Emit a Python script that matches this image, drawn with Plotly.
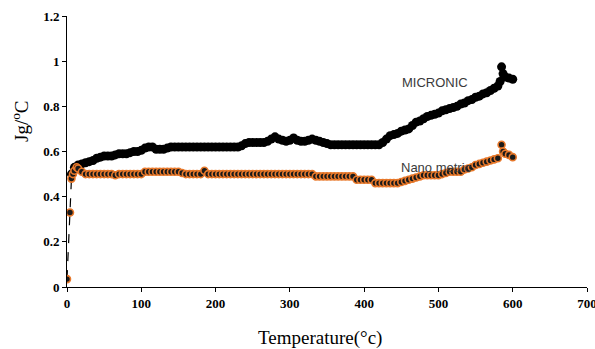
import plotly.graph_objects as go

# Micronic series
micro_t = [6, 10, 15, 20, 25, 30, 35, 40, 45, 50, 55, 60, 65, 70, 75, 80, 85, 90, 95, 100,
           105, 110, 115, 120, 125, 130, 135, 140, 145, 150, 155, 160, 165, 170, 175, 180,
           185, 190, 195, 200, 205, 210, 215, 220, 225, 230, 235, 240, 245, 250, 255, 260,
           265, 270, 275, 280, 285, 290, 295, 300, 305, 310, 315, 320, 325, 330, 335, 340,
           345, 350, 355, 360, 365, 370, 375, 380, 385, 390, 395, 400, 405, 410, 415, 420,
           425, 430, 435, 440, 445, 450, 455, 460, 465, 470, 475, 480, 485, 490, 495, 500,
           505, 510, 515, 520, 525, 530, 535, 540, 545, 550, 555, 560, 565, 570, 575, 580,
           583, 585, 587, 590, 595, 600]
micro_v = [0.50, 0.53, 0.54, 0.545, 0.55, 0.555, 0.56, 0.57, 0.575, 0.58, 0.58, 0.58, 0.585,
           0.59, 0.59, 0.59, 0.595, 0.60, 0.60, 0.605, 0.615, 0.62, 0.62, 0.61, 0.61, 0.61,
           0.615, 0.62, 0.62, 0.62, 0.62, 0.62, 0.62, 0.62, 0.62, 0.62, 0.62, 0.62, 0.62,
           0.62, 0.62, 0.62, 0.62, 0.62, 0.62, 0.62, 0.625, 0.635, 0.64, 0.64, 0.64, 0.64,
           0.64, 0.645, 0.655, 0.665, 0.655, 0.65, 0.645, 0.65, 0.66, 0.65, 0.645, 0.645,
           0.65, 0.655, 0.65, 0.645, 0.64, 0.635, 0.63, 0.63, 0.63, 0.63, 0.63, 0.63, 0.63,
           0.63, 0.63, 0.63, 0.63, 0.63, 0.63, 0.63, 0.64, 0.655, 0.67, 0.675, 0.68, 0.69,
           0.695, 0.70, 0.715, 0.73, 0.735, 0.745, 0.755, 0.76, 0.765, 0.77, 0.78, 0.785,
           0.79, 0.795, 0.80, 0.81, 0.815, 0.825, 0.83, 0.84, 0.845, 0.855, 0.86, 0.87,
           0.88, 0.89, 0.91, 0.975, 0.945, 0.93, 0.925, 0.92]

# Nano metric series
nano_t = [0, 4, 6, 8, 10, 13, 15, 20, 25, 30, 35, 40, 45, 50, 55, 60, 65, 70, 75, 80, 85,
          90, 95, 100, 105, 110, 115, 120, 125, 130, 135, 140, 145, 150, 155, 160, 165, 170,
          175, 180, 185, 190, 195, 200, 205, 210, 215, 220, 225, 230, 235, 240, 245, 250,
          255, 260, 265, 270, 275, 280, 285, 290, 295, 300, 305, 310, 315, 320, 325, 330,
          335, 340, 345, 350, 355, 360, 365, 370, 375, 380, 385, 390, 395, 400, 405, 410,
          415, 420, 425, 430, 435, 440, 445, 450, 455, 460, 465, 470, 475, 480, 485, 490,
          495, 500, 505, 510, 515, 520, 525, 530, 535, 540, 545, 550, 555, 560, 565, 570,
          575, 580, 585, 587, 590, 595, 600]
nano_v = [0.035, 0.33, 0.48, 0.50, 0.515, 0.53, 0.525, 0.51, 0.50, 0.50, 0.50, 0.50, 0.50,
          0.50, 0.50, 0.50, 0.495, 0.50, 0.50, 0.50, 0.50, 0.50, 0.50, 0.50, 0.51, 0.51,
          0.51, 0.51, 0.51, 0.51, 0.51, 0.51, 0.51, 0.51, 0.505, 0.50, 0.50, 0.50, 0.50,
          0.50, 0.515, 0.50, 0.50, 0.50, 0.50, 0.50, 0.50, 0.50, 0.50, 0.50, 0.50, 0.50,
          0.50, 0.50, 0.50, 0.50, 0.50, 0.50, 0.50, 0.50, 0.50, 0.50, 0.50, 0.50, 0.50,
          0.50, 0.50, 0.50, 0.50, 0.50, 0.49, 0.49, 0.49, 0.49, 0.49, 0.49, 0.49, 0.49,
          0.49, 0.49, 0.49, 0.475, 0.475, 0.475, 0.475, 0.475, 0.46, 0.46, 0.46, 0.46,
          0.46, 0.46, 0.46, 0.465, 0.47, 0.475, 0.48, 0.485, 0.49, 0.495, 0.495, 0.495,
          0.495, 0.495, 0.50, 0.505, 0.51, 0.51, 0.51, 0.51, 0.52, 0.525, 0.53, 0.54,
          0.545, 0.55, 0.555, 0.56, 0.565, 0.57, 0.63, 0.60, 0.59, 0.585, 0.575]

x_ticks = [0, 100, 200, 300, 400, 500, 600, 700]
y_ticks = [0, 0.2, 0.4, 0.6, 0.8, 1, 1.2]
y_tick_text = ["0", "0.2", "0.4", "0.6", "0.8", "1", "1.2"]

ORANGE = "#E8782A"
# The page body margin is removed by post_script, so figure coords == screen coords.
# Figure is a little wider than the window so the "700" label is not dropped;
# overflow is hidden so no scrollbars appear.
W, H = 603, 349
# desired plot area on screen: x 67..587, y 16..287
ML = 67
MT = 16
MR = W - 587
MB = H - 287
PW, PH = W - ML - MR, H - MT - MB


def px_to_paper(px, py):
    return (px - ML) / PW, (H - MB - py) / PH


fig = go.Figure()
fig.add_trace(go.Scatter(
    x=micro_t, y=micro_v, mode="lines+markers", name="MICRONIC",
    line=dict(color="black", width=2),
    marker=dict(color="black", size=9, symbol="circle"),
))
fig.add_trace(go.Scatter(
    x=nano_t, y=nano_v, mode="lines+markers", name="Nano metric",
    line=dict(color="black", width=1.2, dash="dash"),
    marker=dict(color="#1a1a1a", size=7, line=dict(color=ORANGE, width=1.6)),
))

xt_x, xt_y = px_to_paper(320, 338)
yt_x, yt_y = px_to_paper(20, 121)

axis_common = dict(ticks="outside", ticklen=4, tickwidth=1, tickcolor="black",
                   showline=True, linecolor="black", linewidth=1, showgrid=False,
                   zeroline=False, automargin=False,
                   tickfont=dict(family="Liberation Serif", size=13, color="black",
                                 weight="bold"))

fig.update_layout(
    template="none",
    width=W, height=H,
    margin=dict(l=ML, r=MR, t=MT, b=MB),
    paper_bgcolor="white", plot_bgcolor="white",
    showlegend=False,
    hovermode=False,
    font=dict(family="Liberation Serif", color="black"),
    xaxis=dict(range=[0, 700], tickvals=x_ticks, **axis_common),
    yaxis=dict(range=[0, 1.2], tickvals=y_ticks, ticktext=y_tick_text, **axis_common),
    annotations=[
        dict(text="MICRONIC", x=496, y=0.907, xref="x", yref="y", showarrow=False,
             font=dict(family="Liberation Sans", size=13, color="#3a3a3a")),
        dict(text="Nano metric", x=497, y=0.527, xref="x", yref="y", showarrow=False,
             font=dict(family="Liberation Sans", size=13, color="#3a3a3a")),
        dict(text="Temperature(°c)", x=xt_x, y=xt_y, xref="paper", yref="paper",
             xanchor="center", yanchor="middle",
             showarrow=False, font=dict(family="Liberation Serif", size=19, color="black")),
        dict(text="Jg/<sup>o</sup>C", x=yt_x, y=yt_y, xref="paper", yref="paper",
             xanchor="center", yanchor="middle",
             textangle=-90, showarrow=False,
             font=dict(family="Liberation Serif", size=19, color="black")),
    ],
)

post = ("document.documentElement.style.margin='0';"
        "document.documentElement.style.overflow='hidden';"
        "document.body.style.margin='0';"
        "document.body.style.overflow='hidden';")
fig.write_html("out.html", post_script=post,
               config={"displayModeBar": False, "staticPlot": True})
